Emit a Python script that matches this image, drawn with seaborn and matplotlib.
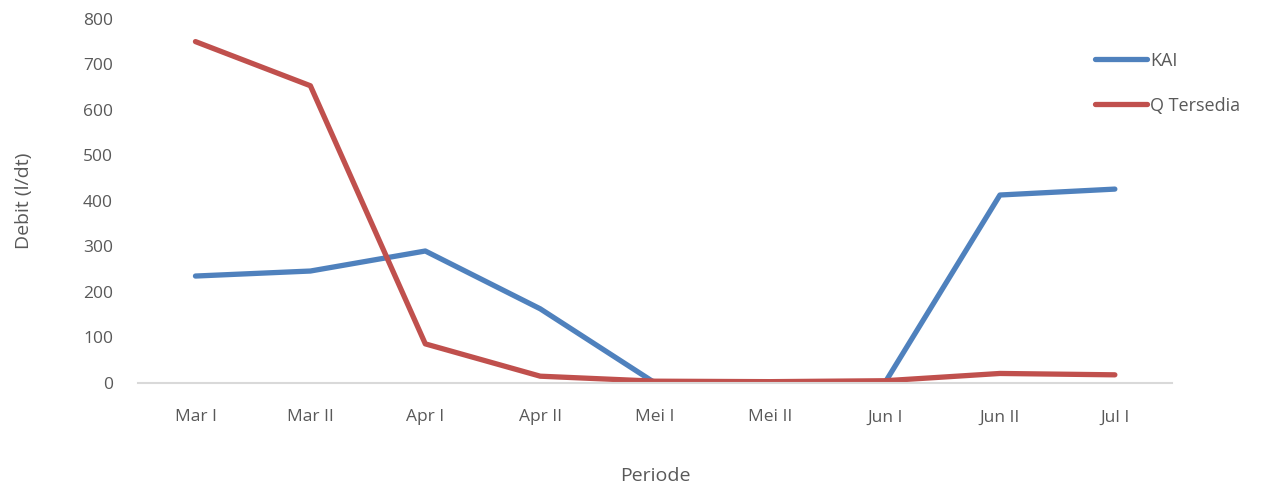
import pandas as pd
import seaborn as sns
import matplotlib.pyplot as plt

periode = ['Mar I', 'Mar II', 'Apr I', 'Apr II', 'Mei I', 'Mei II', 'Jun I', 'Jun II', 'Jul I']
kai = [235, 246, 290, 163, 0, 0, 1, 413, 426]
q_tersedia = [750, 653, 86, 15, 4, 3, 5, 21, 18]

df = pd.DataFrame({'Periode': periode * 2,
                   'Debit': kai + q_tersedia,
                   'Seri': ['KAI'] * len(periode) + ['Q Tersedia'] * len(periode)})

sns.set_style('white')
plt.rcParams['font.family'] = ['Open Sans', 'DejaVu Sans']
grey = '#595959'

fig = plt.figure(figsize=(12.66, 4.83), dpi=100)
ax = fig.add_axes([0.109, 0.207, 0.817, 0.754])
sns.lineplot(data=df, x='Periode', y='Debit', hue='Seri', sort=False,
             palette={'KAI': '#4F81BD', 'Q Tersedia': '#C0504D'},
             linewidth=3.8, ax=ax, legend=False)

ax.set_xlim(-0.5, 8.5)
ax.set_ylim(0, 800)
ax.set_yticks(range(0, 801, 100))
for s in ['top', 'right', 'left']:
    ax.spines[s].set_visible(False)
ax.spines['bottom'].set_color('#D9D9D9')
ax.spines['bottom'].set_linewidth(1.5)
ax.tick_params(length=0, labelsize=12.5, colors=grey)
ax.tick_params(axis='y', pad=18)
ax.tick_params(axis='x', pad=19)
ax.set_xlabel('Periode', fontsize=14, color=grey, labelpad=30)
ax.set_ylabel('Debit (l/dt)', fontsize=14, color=grey, labelpad=36)

handles = [plt.Line2D([], [], color='#4F81BD', lw=3.8, solid_capstyle='round'),
           plt.Line2D([], [], color='#C0504D', lw=3.8, solid_capstyle='round')]
leg = fig.legend(handles, ['KAI', 'Q Tersedia'], loc='upper left',
                 bbox_to_anchor=(0.852, 0.927), frameon=False, fontsize=13,
                 handlelength=2.9, handletextpad=0.15, labelspacing=1.5)
for t in leg.get_texts():
    t.set_color(grey)

fig.savefig('out.png', dpi=100)
